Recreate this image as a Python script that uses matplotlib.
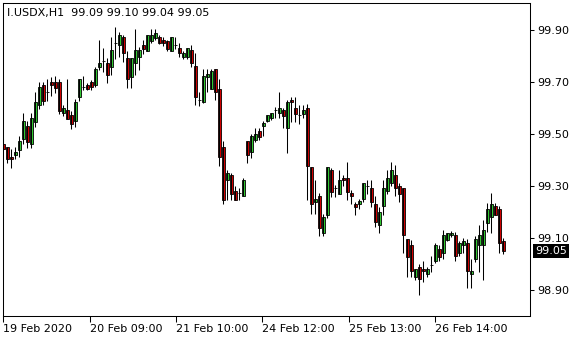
import numpy as np
import matplotlib
matplotlib.use('Agg')
import matplotlib.pyplot as plt
import matplotlib.transforms as mtransforms

symbol = 'I.USDX,H1'

opens = [
    99.463, 99.450, 99.412, 99.420, 99.440, 99.479, 99.530, 99.460, 99.548, 99.610,
    99.690, 99.662, 99.700, 99.700, 99.700, 99.580, 99.592, 99.572, 99.549, 99.641,
    99.680, 99.690, 99.700, 99.690, 99.759, 99.780, 99.772, 99.759, 99.849, 99.841,
    99.872, 99.792, 99.720, 99.772, 99.797, 99.843, 99.820, 99.859, 99.869, 99.872,
    99.862, 99.859, 99.820, 99.841, 99.831, 99.797, 99.797, 99.823, 99.762, 99.630,
    99.622, 99.720, 99.672, 99.749, 99.672, 99.450, 99.322, 99.342, 99.281, 99.273,
    99.260, 99.473, 99.430, 99.478, 99.512, 99.530, 99.550, 99.560, 99.591, 99.581,
    99.591, 99.522, 99.632, 99.599, 99.573, 99.578, 99.600, 99.373, 99.240, 99.260,
    99.119, 99.190, 99.360, 99.293, 99.270, 99.332, 99.330, 99.273, 99.230, 99.230,
    99.250, 99.299, 99.291, 99.230, 99.150, 99.222, 99.281, 99.312, 99.342, 99.299,
    99.291, 99.097, 99.072, 98.949, 98.990, 98.980, 98.962, 98.997, 99.010, 99.059,
    99.041, 99.092, 99.110, 99.110, 99.041, 99.072, 99.080, 98.962, 99.020, 99.072,
    99.072, 99.159, 99.180, 99.223, 99.210, 99.090,
]
highs = [
    99.481, 99.450, 99.441, 99.449, 99.492, 99.580, 99.549, 99.580, 99.662, 99.700,
    99.700, 99.710, 99.720, 99.723, 99.710, 99.610, 99.710, 99.590, 99.633, 99.713,
    99.723, 99.697, 99.708, 99.759, 99.862, 99.831, 99.792, 99.872, 99.910, 99.892,
    99.882, 99.820, 99.792, 99.903, 99.833, 99.862, 99.882, 99.903, 99.903, 99.882,
    99.872, 99.862, 99.874, 99.872, 99.849, 99.820, 99.831, 99.841, 99.813, 99.662,
    99.751, 99.749, 99.749, 99.749, 99.710, 99.473, 99.360, 99.350, 99.299, 99.291,
    99.330, 99.473, 99.501, 99.524, 99.524, 99.550, 99.573, 99.581, 99.604, 99.663,
    99.601, 99.632, 99.642, 99.642, 99.612, 99.612, 99.615, 99.373, 99.325, 99.273,
    99.191, 99.373, 99.370, 99.304, 99.360, 99.342, 99.391, 99.283, 99.240, 99.250,
    99.312, 99.322, 99.322, 99.260, 99.219, 99.322, 99.360, 99.391, 99.381, 99.312,
    99.291, 99.097, 99.092, 98.980, 99.000, 99.010, 98.987, 99.031, 99.082, 99.072,
    99.131, 99.120, 99.128, 99.123, 99.090, 99.100, 99.097, 99.020, 99.108, 99.151,
    99.169, 99.233, 99.272, 99.233, 99.223, 99.100,
]
lows = [
    99.438, 99.390, 99.371, 99.402, 99.410, 99.462, 99.448, 99.448, 99.528, 99.595,
    99.613, 99.628, 99.646, 99.659, 99.577, 99.569, 99.557, 99.520, 99.528, 99.628,
    99.669, 99.669, 99.669, 99.682, 99.746, 99.738, 99.697, 99.728, 99.790, 99.797,
    99.777, 99.677, 99.677, 99.728, 99.746, 99.808, 99.820, 99.849, 99.862, 99.846,
    99.838, 99.820, 99.818, 99.828, 99.797, 99.790, 99.790, 99.759, 99.610, 99.608,
    99.620, 99.660, 99.672, 99.629, 99.378, 99.230, 99.247, 99.247, 99.247, 99.247,
    99.260, 99.388, 99.409, 99.470, 99.478, 99.491, 99.547, 99.553, 99.560, 99.560,
    99.522, 99.427, 99.547, 99.547, 99.540, 99.560, 99.248, 99.191, 99.191, 99.109,
    99.109, 99.178, 99.258, 99.258, 99.270, 99.301, 99.247, 99.230, 99.188, 99.212,
    99.240, 99.270, 99.219, 99.142, 99.119, 99.188, 99.270, 99.301, 99.260, 99.240,
    99.041, 98.949, 98.949, 98.938, 98.880, 98.931, 98.951, 98.969, 99.003, 99.010,
    99.020, 99.090, 99.103, 99.010, 99.031, 99.041, 98.908, 98.908, 99.008, 98.969,
    98.938, 99.123, 99.120, 99.190, 99.041, 99.040,
]
closes = [
    99.441, 99.403, 99.402, 99.431, 99.472, 99.549, 99.469, 99.560, 99.622, 99.680,
    99.628, 99.662, 99.690, 99.677, 99.590, 99.600, 99.559, 99.538, 99.623, 99.710,
    99.680, 99.672, 99.680, 99.749, 99.774, 99.780, 99.728, 99.823, 99.849, 99.880,
    99.810, 99.710, 99.792, 99.823, 99.823, 99.828, 99.880, 99.880, 99.890, 99.849,
    99.849, 99.828, 99.872, 99.841, 99.810, 99.810, 99.831, 99.772, 99.641, 99.630,
    99.723, 99.731, 99.741, 99.661, 99.410, 99.247, 99.350, 99.270, 99.247, 99.273,
    99.322, 99.419, 99.493, 99.499, 99.488, 99.542, 99.573, 99.581, 99.591, 99.599,
    99.570, 99.622, 99.622, 99.578, 99.573, 99.591, 99.377, 99.229, 99.250, 99.140,
    99.181, 99.373, 99.278, 99.293, 99.322, 99.322, 99.278, 99.260, 99.219, 99.242,
    99.312, 99.299, 99.240, 99.160, 99.199, 99.291, 99.330, 99.360, 99.291, 99.270,
    99.110, 99.028, 98.972, 98.980, 98.941, 98.972, 98.980, 98.997, 99.072, 99.028,
    99.110, 99.120, 99.120, 99.031, 99.080, 99.090, 98.972, 98.972, 99.097, 99.110,
    99.131, 99.210, 99.231, 99.190, 99.080, 99.050,
]

x_ticks = [0, 21.6, 43.2, 64.8, 86.4, 108]
x_labels = ['19 Feb 2020', '20 Feb 09:00', '21 Feb 10:00',
            '24 Feb 12:00', '25 Feb 13:00', '26 Feb 14:00']
y_ticks = [98.90, 99.10, 99.30, 99.50, 99.70, 99.90]

GREEN = '#32cd32'
RED = '#d40000'


def main():
    o = np.array(opens)
    h = np.array(highs)
    l = np.array(lows)
    c = np.array(closes)
    idx = np.arange(len(o))
    up = c >= o

    fig = plt.figure(figsize=(5.8, 3.4), dpi=100)
    ax = fig.add_axes([2.5 / 580, 24 / 340, 527.5 / 580, 313 / 340])

    # wicks then bodies
    ax.vlines(idx, l, h, color='black', linewidth=0.75)
    ax.bar(idx[up], (c - o)[up], bottom=o[up], width=0.75, color=GREEN,
           edgecolor='black', linewidth=0.6)
    ax.bar(idx[~up], (c - o)[~up], bottom=o[~up], width=0.75, color=RED,
           edgecolor='black', linewidth=0.6)

    ax.set_xlim(-0.2, 131.7)
    ax.set_ylim(98.800, 100.004)

    ax.yaxis.tick_right()
    ax.set_yticks(y_ticks)
    ax.set_yticklabels([f'{v:.2f}' for v in y_ticks])
    ax.tick_params(axis='y', direction='out', length=3, width=0.75, pad=2, labelsize=8)

    ax.set_xticks(x_ticks)
    ax.set_xticklabels(x_labels, ha='left')
    ax.tick_params(axis='x', direction='out', length=4, width=0.75, pad=2, labelsize=8)

    for sp in ax.spines.values():
        sp.set_linewidth(0.75)
        sp.set_color('black')

    # header with last bar OHLC
    header = f'{symbol}  {o[-1]:.2f} {h[-1]:.2f} {l[-1]:.2f} {c[-1]:.2f}'
    ax.text(0.008, 0.985, header, transform=ax.transAxes, fontsize=8, va='top', ha='left')

    # current price box
    trans = mtransforms.blended_transform_factory(ax.transAxes, ax.transData)
    ax.text(1.0 + 5 / 527.5, c[-1], f'{c[-1]:.2f}', transform=trans, color='white',
            fontsize=8, va='center', ha='left', clip_on=False,
            bbox=dict(facecolor='black', edgecolor='none', pad=1.5))

    fig.savefig('out.png', dpi=100, facecolor='white')


if __name__ == '__main__':
    main()
